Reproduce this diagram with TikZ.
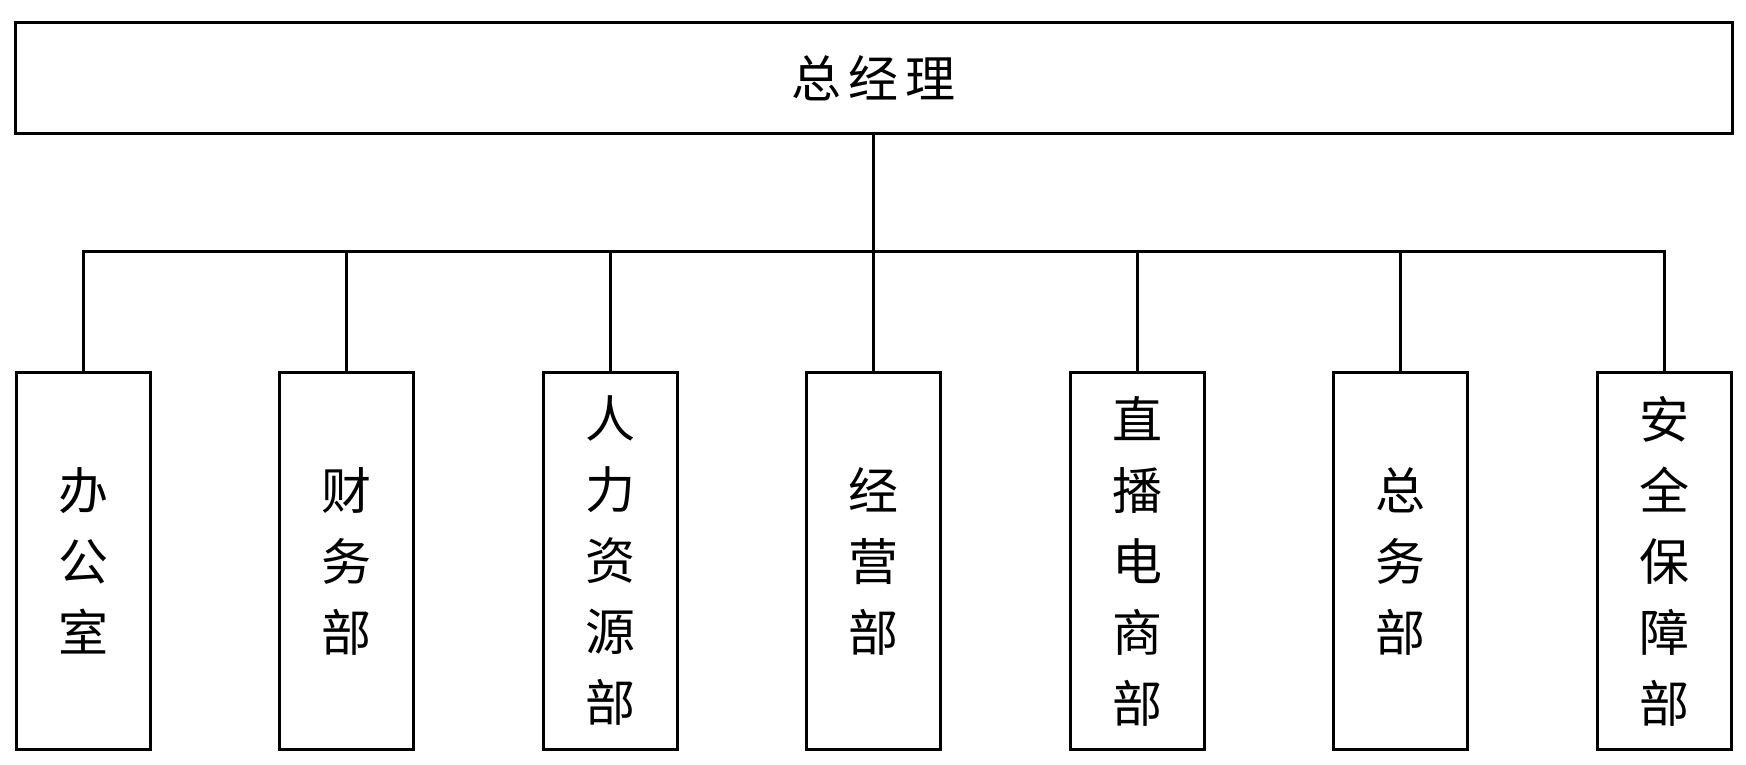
\documentclass[tikz,border=0pt]{standalone}
\usepackage{fontspec}
\newfontfamily\cjk{Noto Sans CJK SC}
\begin{document}
\begin{tikzpicture}[x=1pt,y=1pt,
  box/.style={draw=black,line width=3pt,inner sep=0pt,outer sep=0pt,fill=white},
  dept/.style={box,minimum width=134pt,minimum height=376pt,align=center,
    font=\cjk\fontsize{50}{71}\selectfont},
  link/.style={line width=3pt,line cap=rect}]
\useasboundingbox (0,0) rectangle (1746,764);
\node[box,minimum width=1717pt,minimum height=111pt,font=\cjk\fontsize{50}{60}\selectfont]
  (top) at (873.5,685.5) {总\hspace{7pt}经\hspace{7pt}理};
\node[dept] (b1) at (83,203) {办\\公\\室};
\node[dept] (b2) at (346.5,203) {财\\务\\部};
\node[dept] (b3) at (610,203) {人\\力\\资\\源\\部};
\node[dept] (b4) at (873.5,203) {经\\营\\部};
\node[dept] (b5) at (1137,203) {直\\播\\电\\商\\部};
\node[dept] (b6) at (1400.5,203) {总\\务\\部};
\node[dept] (b7) at (1664,203) {安\\全\\保\\障\\部};
\coordinate (bus) at (873.5,512);
\draw[line width=3pt] (top.south) -- (bus);
\draw[line width=3pt] (b1.north) |- (bus) -| (b7.north);
\foreach \i in {2,...,6}{\draw[line width=3pt] (b\i.north) -- (b\i.north |- bus);}
\end{tikzpicture}
\end{document}
